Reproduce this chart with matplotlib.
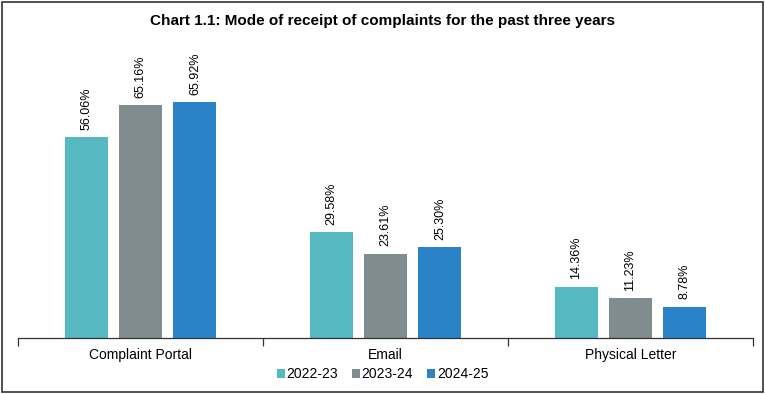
import matplotlib.pyplot as plt
import numpy as np
from matplotlib.patches import Rectangle

categories = ["Complaint Portal", "Email", "Physical Letter"]
years = ["2022-23", "2023-24", "2024-25"]
values = {
    "2022-23": [56.06, 29.58, 14.36],
    "2023-24": [65.16, 23.61, 11.23],
    "2024-25": [65.92, 25.30, 8.78],
}
colors = ["#56b8c1", "#7f8d8e", "#2a83c6"]

plt.rcParams["font.family"] = ["Liberation Sans Narrow", "Liberation Sans", "DejaVu Sans"]

fig = plt.figure(figsize=(7.65, 3.94), dpi=100)
ax = fig.add_axes([18 / 765, (394 - 338) / 394, 735 / 765, 288 / 394])

x = np.arange(len(categories))
width = 0.176
step = 0.222
for i, yr in enumerate(years):
    pos = x + (i - 1) * step
    bars = ax.bar(pos, values[yr], width, color=colors[i], label=yr)
    for b, v in zip(bars, values[yr]):
        ax.text(b.get_x() + b.get_width() / 2, v + 2.0, f"{v:.2f}%",
                rotation=90, ha="center", va="bottom", fontsize=9)

ax.set_xlim(-0.5, 2.5)
ax.set_ylim(0, 80.5)
ax.set_yticks([])
for s in ["top", "right", "left"]:
    ax.spines[s].set_visible(False)
ax.spines["bottom"].set_color("#333333")
ax.spines["bottom"].set_linewidth(0.9)
ax.set_xticks([-0.5, 0.5, 1.5, 2.5])
ax.set_xticklabels([])
ax.set_xticks(x, minor=True)
ax.set_xticklabels(categories, minor=True, fontsize=10)
ax.tick_params(axis="x", which="major", length=6, width=0.9, color="#333333")
ax.tick_params(axis="x", which="minor", length=0, pad=7)

fig.suptitle("Chart 1.1: Mode of receipt of complaints for the past three years",
             x=0.5, y=0.965, fontsize=11, fontweight="bold",
             family=["Liberation Sans", "DejaVu Sans"])

fig.legend(loc="center", bbox_to_anchor=(0.5, (394 - 374) / 394), ncol=3,
           frameon=False, fontsize=10, handlelength=0.6, handleheight=0.6,
           handletextpad=0.1, columnspacing=1.0)

fig.add_artist(Rectangle((0.002, 0.004), 0.995, 0.992, transform=fig.transFigure,
                         fill=False, edgecolor="#333333", linewidth=1.2))

fig.savefig("out.png", dpi=100)
